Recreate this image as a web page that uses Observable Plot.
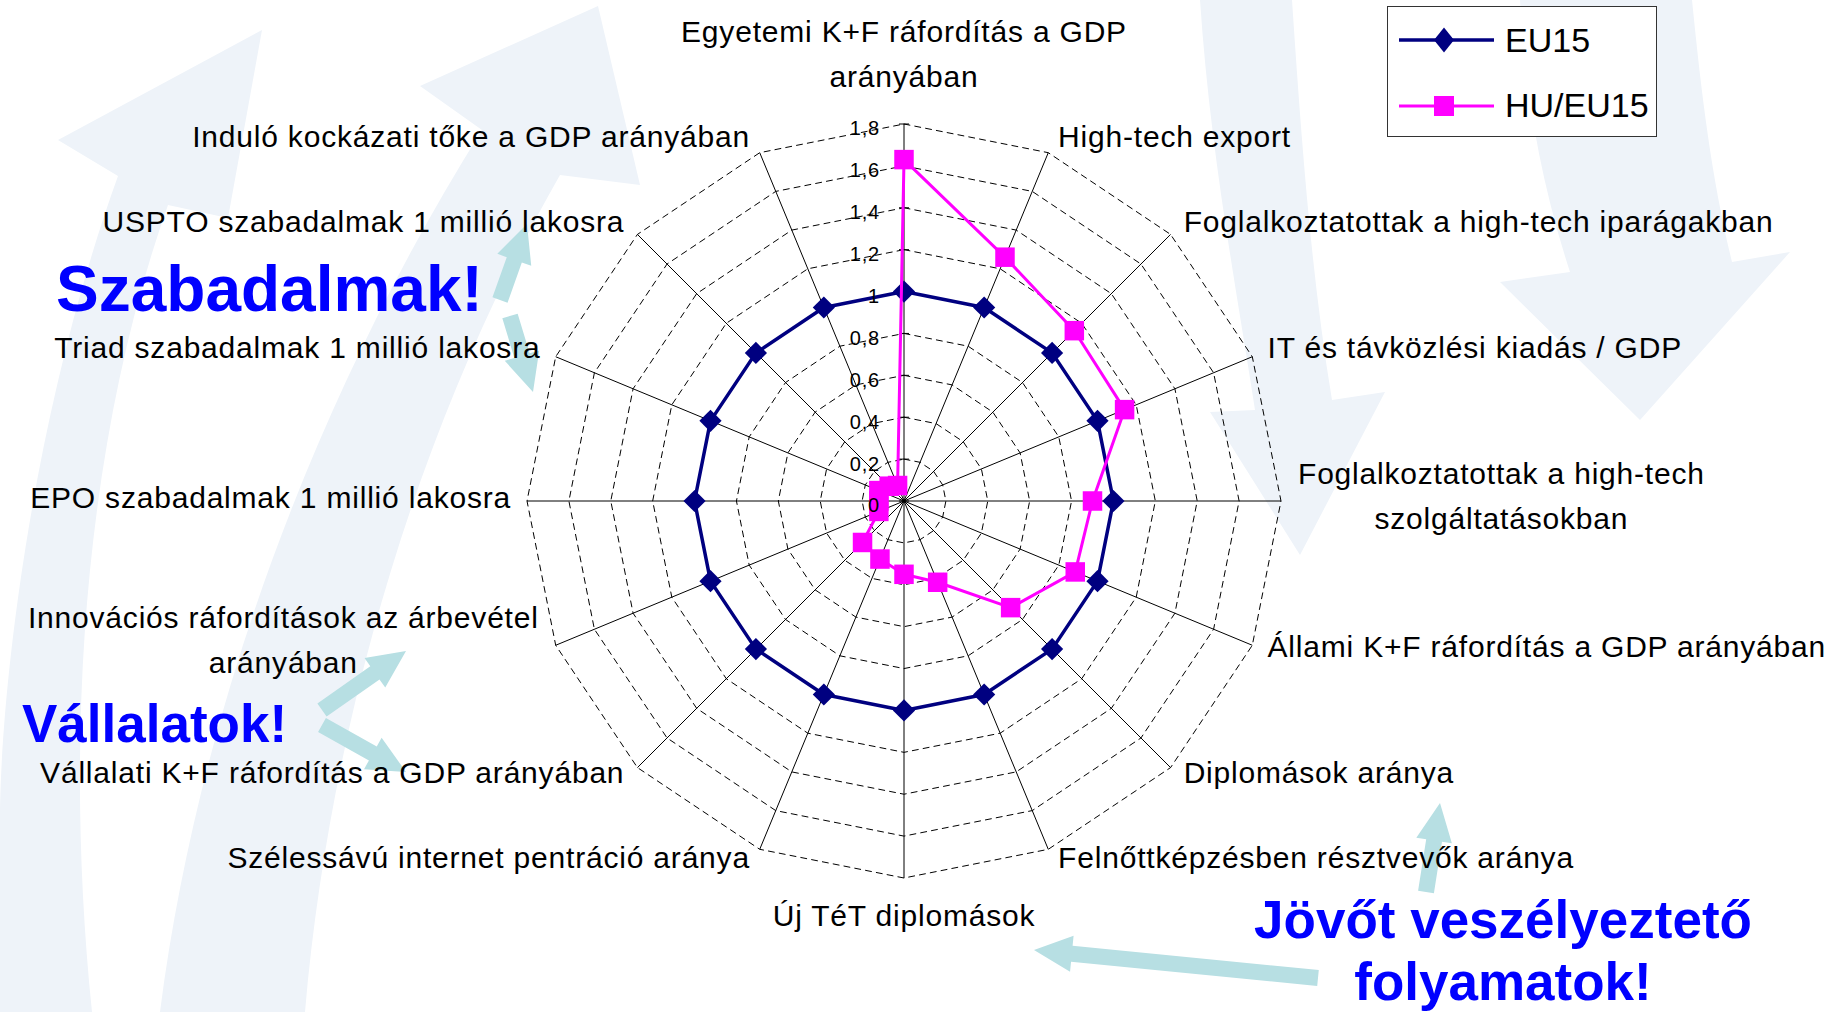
<!DOCTYPE html>
<html><head><meta charset="utf-8">
<script src="https://cdn.jsdelivr.net/npm/d3@7"></script>
<script src="https://cdn.jsdelivr.net/npm/@observablehq/plot@0.6"></script>
<style>
html,body{margin:0;padding:0;background:#fff;overflow:hidden}
#wrap{position:relative;width:1843px;height:1012px;overflow:hidden;font-family:"Liberation Sans",Arial,sans-serif;background:#fff}
#bg,#deco,#chart{position:absolute;left:0;top:0}
#legend{position:absolute;left:1387px;top:6px;width:270px;height:131px;border:1.5px solid #333;background:#fff;box-sizing:border-box}
</style></head><body>
<div id="wrap">
<svg id="bg" width="1843" height="1012"></svg>
<div id="chart"></div>
<svg id="deco" width="1843" height="1012"></svg>
<div id="legend"></div>
</div>
<script>
// ---------- data ----------
const categories = [
  "Egyetemi K+F ráfordítás a GDP\narányában",
  "High-tech export",
  "Foglalkoztatottak a high-tech iparágakban",
  "IT és távközlési kiadás / GDP",
  "Foglalkoztatottak a high-tech\nszolgáltatásokban",
  "Állami K+F ráfordítás a GDP arányában",
  "Diplomások aránya",
  "Felnőttképzésben résztvevők aránya",
  "Új TéT diplomások",
  "Szélessávú internet pentráció aránya",
  "Vállalati K+F ráfordítás a GDP arányában",
  "Innovációs ráfordítások az árbevétel\narányában",
  "EPO szabadalmak 1 millió lakosra",
  "Triad szabadalmak 1 millió lakosra",
  "USPTO szabadalmak 1 millió lakosra",
  "Induló kockázati tőke a GDP arányában"
];
const seriesNames = ["EU15", "HU/EU15"];
const eu15 = [1, 1, 1, 1, 1, 1, 1, 1, 1, 1, 1, 1, 1, 1, 1, 1];
const huEu15 = [1.63, 1.26, 1.15, 1.14, 0.90, 0.885, 0.72, 0.42, 0.35, 0.30, 0.28, 0.13, 0.12, 0.13, 0.10, 0.08];
const tickValues = [0, 0.2, 0.4, 0.6, 0.8, 1, 1.2, 1.4, 1.6, 1.8];
const tickLabels = ["0", "0,2", "0,4", "0,6", "0,8", "1", "1,2", "1,4", "1,6", "1,8"];
const annotations = ["Szabadalmak!", "Vállalatok!", "Jövőt veszélyeztető", "folyamatok!"];

// ---------- layout ----------
const W = 1843, H = 1012;
const cx = 903.5, cy = 500.5;
const rMax = tickValues[tickValues.length - 1];
const unit = 377 / rMax;
const N = categories.length;
const ang = i => i * 2 * Math.PI / N;
const px = (r, i) => r * Math.sin(ang(i));
const py = (r, i) => r * Math.cos(ang(i));
const toX = p => (p - cx) / unit;
const toY = p => (cy - p) / unit;
const FONT = '"Liberation Sans", Arial, sans-serif';
const NAVY = "#000080", PINK = "#ff00ff";

const closedPts = vals => vals.concat([vals[0]]).map((v, k) => ({x: px(v, k % N), y: py(v, k % N)}));
const ringData = tickValues.filter(v => v > 0).flatMap(v =>
  d3.range(N + 1).map(k => ({v, x: px(v, k % N), y: py(v, k % N)})));
const spokes = categories.map((c, i) => ({x2: px(rMax, i), y2: py(rMax, i)}));

// label placement
const labelFont = 30, lineH = 1.5, ls = 0.8;
const ctx = document.createElement("canvas").getContext("2d");
ctx.font = `${labelFont}px ${FONT}`;
const textW = s => ctx.measureText(s).width + s.length * ls;
const labels = categories.map((name, i) => {
  const s = Math.sin(ang(i)), c = Math.cos(ang(i));
  const lines = name.split("\n");
  const ex = cx + rMax * unit * s, ey = cy - rMax * unit * c;
  const side = Math.abs(s) < 1e-6 ? 0 : Math.sign(s);
  let anchor, lx, ly;
  if (side === 0) {
    anchor = "middle";
    lx = ex;
    const half = lines.length > 1 ? lines.length * labelFont * lineH / 2 : labelFont / 2;
    ly = ey - c * (26 + half) - 3;
  } else if (lines.length > 1) {
    anchor = "middle";
    const w = d3.max(lines, textW);
    lx = ex + side * (17 + w / 2);
    ly = ey - 9;
  } else {
    anchor = side > 0 ? "start" : "end";
    lx = ex + side * (6 + 10 * Math.abs(s));
    ly = ey - 13 * c - 3;
  }
  return {name, anchor, multi: lines.length > 1, x: toX(lx), y: toY(ly)};
});
const labelMark = (anchor, multi) => Plot.text(labels.filter(d => d.anchor === anchor && d.multi === multi), {
  x: "x", y: "y", text: "name", textAnchor: anchor, lineAnchor: "middle",
  lineHeight: multi ? lineH : 1, fontSize: labelFont, fontFamily: FONT, fill: "black"
});

const chart = Plot.plot({
  width: W, height: H,
  marginTop: 0, marginRight: 0, marginBottom: 0, marginLeft: 0,
  x: {domain: [toX(0), toX(W)], axis: null},
  y: {domain: [toY(H), toY(0)], axis: null},
  style: {background: "transparent", letterSpacing: ls + "px"},
  marks: [
    Plot.line(ringData, {x: "x", y: "y", z: "v", stroke: "black", strokeWidth: 1, strokeDasharray: "6,5"}),
    Plot.link(spokes, {x1: 0, y1: 0, x2: "x2", y2: "y2", stroke: "black", strokeWidth: 1}),
    Plot.link(tickValues, {x1: -5 / unit, x2: 5 / unit, y1: d => d, y2: d => d, stroke: "black", strokeWidth: 1}),
    Plot.line(closedPts(eu15), {x: "x", y: "y", stroke: NAVY, strokeWidth: 3.5}),
    Plot.dot(closedPts(eu15).slice(0, N), {x: "x", y: "y", symbol: "diamond2", r: 10, fill: NAVY, stroke: "none"}),
    Plot.line(closedPts(huEu15), {x: "x", y: "y", stroke: PINK, strokeWidth: 3}),
    Plot.dot(closedPts(huEu15).slice(0, N), {x: "x", y: "y", symbol: "square", r: 11, fill: PINK, stroke: "none"}),
    Plot.text(tickValues, {x: 0, y: d => d, text: (d, i) => tickLabels[i], textAnchor: "end", dx: -24, dy: 5,
      fontSize: 20, fontFamily: FONT, fill: "black"}),
    labelMark("start", false), labelMark("end", false), labelMark("middle", false), labelMark("middle", true)
  ]
});
document.getElementById("chart").appendChild(chart);

// ---------- decorations ----------
const NS = "http://www.w3.org/2000/svg";
function el(parent, tag, attrs, text) {
  const e = document.createElementNS(NS, tag);
  for (const k in attrs) e.setAttribute(k, attrs[k]);
  if (text != null) e.textContent = text;
  parent.appendChild(e);
  return e;
}
const bg = document.getElementById("bg");
const wm = "#eef3f9";
[
  "M0,1012 L92,1012 C62,720 88,430 168,205 L228,218 L262,30 L58,140 L118,176 C30,420 0,700 0,820 Z",
  "M160,1012 L305,1012 C330,720 420,420 560,175 L640,185 L598,6 L420,86 L482,130 C322,385 200,700 160,1012 Z",
  "M1200,0 L1292,0 C1302,150 1312,280 1332,400 L1385,392 L1300,555 L1210,412 L1255,410 C1235,280 1210,150 1200,0 Z",
  "M1520,0 L1692,0 C1702,100 1712,180 1732,262 L1790,252 L1640,420 L1500,282 L1570,272 C1540,180 1525,90 1520,0 Z"
].forEach(d => el(bg, "path", {d, fill: wm}));

function arrow(x0, y0, x1, y1, w, hw, hl) {
  const L = Math.hypot(x1 - x0, y1 - y0), ux = (x1 - x0) / L, uy = (y1 - y0) / L;
  const nx = -uy, ny = ux, bx = x1 - ux * hl, by = y1 - uy * hl;
  const p = [[x0 + nx * w / 2, y0 + ny * w / 2], [bx + nx * w / 2, by + ny * w / 2], [bx + nx * hw / 2, by + ny * hw / 2],
    [x1, y1], [bx - nx * hw / 2, by - ny * hw / 2], [bx - nx * w / 2, by - ny * w / 2], [x0 - nx * w / 2, y0 - ny * w / 2]];
  return p.map(q => q.join(",")).join(" ");
}
const AR = "#b7dfe3";
[[500, 300, 527, 224], [510, 316, 533, 392], [322, 710, 406, 651], [322, 725, 406, 772],
 [1426, 892, 1440, 803], [1318, 978, 1034, 950]]
  .forEach(([a, b, c, d]) => el(bg, "polygon", {points: arrow(a, b, c, d, 16, 36, 38), fill: AR}));

const deco = document.getElementById("deco");
const big = {fill: "#0000ff", "font-weight": "bold", "font-family": FONT};
el(deco, "text", {...big, x: 56, y: 311, "font-size": 64}, annotations[0]);
el(deco, "text", {...big, x: 22, y: 742, "font-size": 53}, annotations[1]);
el(deco, "text", {...big, x: 1503, y: 938, "font-size": 53, "text-anchor": "middle"}, annotations[2]);
el(deco, "text", {...big, x: 1503, y: 1000, "font-size": 53, "text-anchor": "middle"}, annotations[3]);

// legend
const lg = document.createElementNS(NS, "svg");
lg.setAttribute("width", 267); lg.setAttribute("height", 128);
document.getElementById("legend").appendChild(lg);
el(lg, "line", {x1: 11, x2: 106, y1: 33, y2: 33, stroke: NAVY, "stroke-width": 3.5});
el(lg, "polygon", {points: "56,20.5 66,33 56,45.5 46,33", fill: NAVY});
el(lg, "text", {x: 117, y: 45, "font-size": 34, "font-family": FONT, fill: "black"}, seriesNames[0]);
el(lg, "line", {x1: 11, x2: 106, y1: 99, y2: 99, stroke: PINK, "stroke-width": 3});
el(lg, "rect", {x: 46, y: 89, width: 20, height: 20, fill: PINK});
el(lg, "text", {x: 117, y: 110, "font-size": 34, "font-family": FONT, fill: "black"}, seriesNames[1]);
</script>
</body></html>
